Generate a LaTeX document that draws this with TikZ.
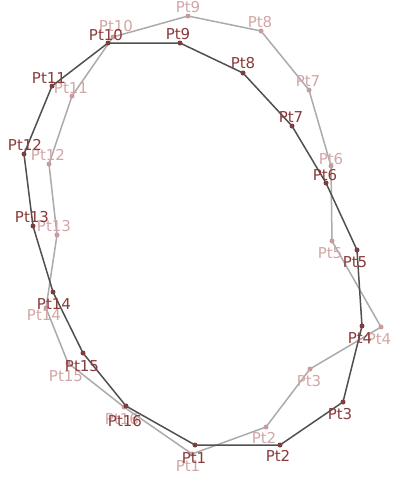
\documentclass[tikz,border=0pt]{standalone}
\usepackage{fontspec}
\usepackage{xcolor}
\usepackage{tikz}
\newfontfamily\ptfont{DejaVu Sans}
\definecolor{PtDarkLine}{HTML}{505050}
\definecolor{PtLightLine}{HTML}{ABABAB}
\definecolor{PtDarkDot}{HTML}{7E3E3E}
\definecolor{PtLightDot}{HTML}{C89C9C}
\definecolor{PtDarkText}{HTML}{8A3A3A}
\definecolor{PtLightText}{HTML}{D2A6A6}
\tikzset{
  darklabel/.style={text=PtDarkText,inner sep=0pt,font=\ptfont\fontsize{15}{15}\selectfont},
  lightlabel/.style={text=PtLightText,inner sep=0pt,font=\ptfont\fontsize{15}{15}\selectfont}
}

\begin{document}
\begin{tikzpicture}[x=1pt,y=-1pt]
\path[use as bounding box] (0,0) rectangle (392,477);
% earlier outline
\coordinate (l1) at (192,454);
\coordinate (l2) at (266,427);
\coordinate (l3) at (310,369);
\coordinate (l4) at (381,327);
\coordinate (l5) at (332,241);
\coordinate (l6) at (331,166);
\coordinate (l7) at (309,90);
\coordinate (l8) at (261,31);
\coordinate (l9) at (188,16);
\coordinate (l10) at (113,37);
\coordinate (l11) at (72,96);
\coordinate (l12) at (49,164);
\coordinate (l13) at (57,235);
\coordinate (l14) at (46,308);
\coordinate (l15) at (68,363);
\coordinate (l16) at (124,407);
\draw[PtLightLine,line width=1.5] (l1) -- (l2) -- (l3) -- (l4) -- (l5) -- (l6) -- (l7) -- (l8) -- (l9) -- (l10) -- (l11) -- (l12) -- (l13) -- (l14) -- (l15) -- (l16) -- cycle;
\fill[PtLightDot] (l1) circle (2.5);
\fill[PtLightDot] (l2) circle (2.5);
\fill[PtLightDot] (l3) circle (2.5);
\fill[PtLightDot] (l4) circle (2.5);
\fill[PtLightDot] (l5) circle (2.5);
\fill[PtLightDot] (l6) circle (2.5);
\fill[PtLightDot] (l7) circle (2.5);
\fill[PtLightDot] (l8) circle (2.5);
\fill[PtLightDot] (l9) circle (2.5);
\fill[PtLightDot] (l10) circle (2.5);
\fill[PtLightDot] (l11) circle (2.5);
\fill[PtLightDot] (l12) circle (2.5);
\fill[PtLightDot] (l13) circle (2.5);
\fill[PtLightDot] (l14) circle (2.5);
\fill[PtLightDot] (l15) circle (2.5);
\fill[PtLightDot] (l16) circle (2.5);
\node[lightlabel] (ltext1) at (188,466) {Pt1};
\node[lightlabel] (ltext2) at (264,438) {Pt2};
\node[lightlabel] (ltext3) at (309,381) {Pt3};
\node[lightlabel] (ltext4) at (379,339) {Pt4};
\node[lightlabel] (ltext5) at (330,253) {Pt5};
\node[lightlabel] (ltext6) at (331,159) {Pt6};
\node[lightlabel] (ltext7) at (308,81) {Pt7};
\node[lightlabel] (ltext8) at (260,22) {Pt8};
\node[lightlabel] (ltext9) at (188,7) {Pt9};
\node[lightlabel] (ltext10) at (116,26) {Pt10};
\node[lightlabel] (ltext11) at (71,88) {Pt11};
\node[lightlabel] (ltext12) at (48,155) {Pt12};
\node[lightlabel] (ltext13) at (54,226) {Pt13};
\node[lightlabel] (ltext14) at (44,315) {Pt14};
\node[lightlabel] (ltext15) at (66,376) {Pt15};
\node[lightlabel] (ltext16) at (122,419) {Pt16};
% current outline
\coordinate (d1) at (195,445);
\coordinate (d2) at (280,445);
\coordinate (d3) at (343,402);
\coordinate (d4) at (362,326);
\coordinate (d5) at (357,250);
\coordinate (d6) at (326,183);
\coordinate (d7) at (292,126);
\coordinate (d8) at (243,73);
\coordinate (d9) at (180,43);
\coordinate (d10) at (108,43);
\coordinate (d11) at (52,86);
\coordinate (d12) at (24,154);
\coordinate (d13) at (33,226);
\coordinate (d14) at (53,292);
\coordinate (d15) at (83,353);
\coordinate (d16) at (126,406);
\draw[PtDarkLine,line width=1.5] (d1) -- (d2) -- (d3) -- (d4) -- (d5) -- (d6) -- (d7) -- (d8) -- (d9) -- (d10) -- (d11) -- (d12) -- (d13) -- (d14) -- (d15) -- (d16) -- cycle;
\fill[PtDarkDot] (d1) circle (2.5);
\fill[PtDarkDot] (d2) circle (2.5);
\fill[PtDarkDot] (d3) circle (2.5);
\fill[PtDarkDot] (d4) circle (2.5);
\fill[PtDarkDot] (d5) circle (2.5);
\fill[PtDarkDot] (d6) circle (2.5);
\fill[PtDarkDot] (d7) circle (2.5);
\fill[PtDarkDot] (d8) circle (2.5);
\fill[PtDarkDot] (d9) circle (2.5);
\fill[PtDarkDot] (d10) circle (2.5);
\fill[PtDarkDot] (d11) circle (2.5);
\fill[PtDarkDot] (d12) circle (2.5);
\fill[PtDarkDot] (d13) circle (2.5);
\fill[PtDarkDot] (d14) circle (2.5);
\fill[PtDarkDot] (d15) circle (2.5);
\fill[PtDarkDot] (d16) circle (2.5);
\node[darklabel] (dtext1) at (194,458) {Pt1};
\node[darklabel] (dtext2) at (278,456) {Pt2};
\node[darklabel] (dtext3) at (340,414) {Pt3};
\node[darklabel] (dtext4) at (360,338) {Pt4};
\node[darklabel] (dtext5) at (355,262) {Pt5};
\node[darklabel] (dtext6) at (325,175) {Pt6};
\node[darklabel] (dtext7) at (291,117) {Pt7};
\node[darklabel] (dtext8) at (243,63) {Pt8};
\node[darklabel] (dtext9) at (178,34) {Pt9};
\node[darklabel] (dtext10) at (106,35) {Pt10};
\node[darklabel] (dtext11) at (49,78) {Pt11};
\node[darklabel] (dtext12) at (25,145) {Pt12};
\node[darklabel] (dtext13) at (32,217) {Pt13};
\node[darklabel] (dtext14) at (54,304) {Pt14};
\node[darklabel] (dtext15) at (82,366) {Pt15};
\node[darklabel] (dtext16) at (125,421) {Pt16};
\end{tikzpicture}
\end{document}
